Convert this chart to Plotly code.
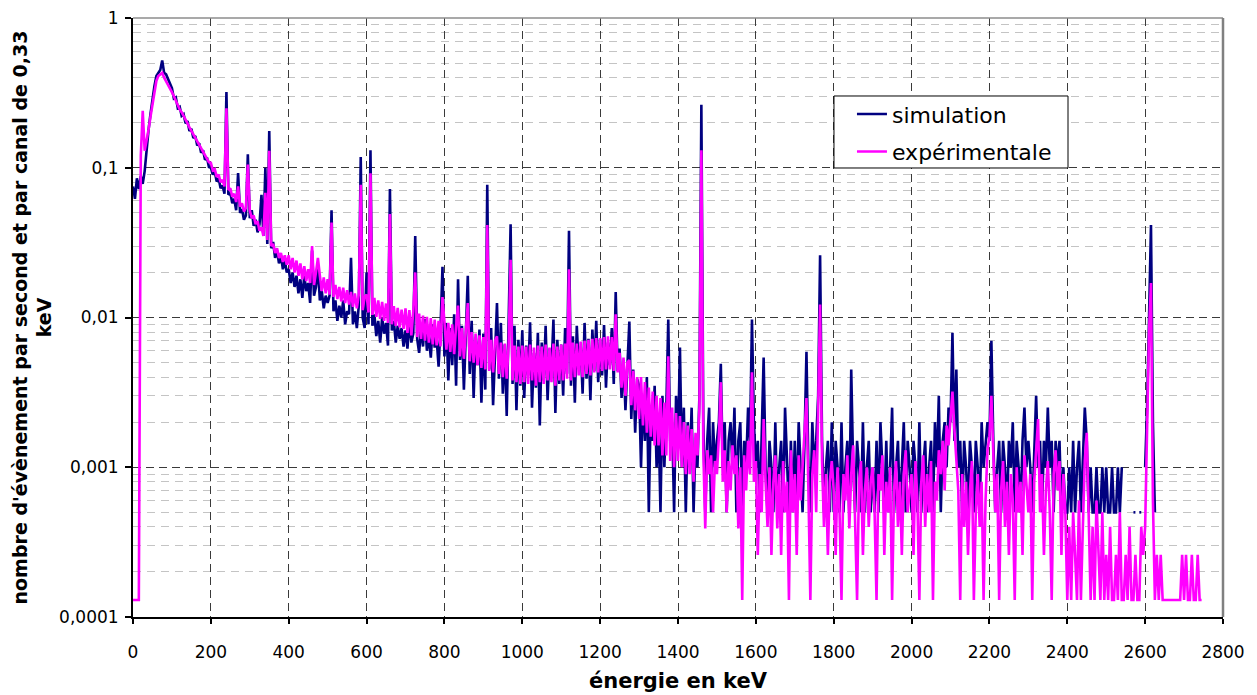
import plotly.graph_objects as go

# ---------------- data ----------------
# channel energies in keV (5 keV steps)
energie_keV = list(range(0, 2750, 5))

# simulation (navy), counts per second per channel
sim_0_495 = [
    0.075, 0.062, 0.085, 0.072, 0.088, 0.078, 0.095, 0.14, 0.18, 0.23,
    0.29, 0.35, 0.41, 0.43, 0.45, 0.52, 0.43, 0.42, 0.39, 0.36,
    0.34, 0.29, 0.295, 0.25, 0.255, 0.222, 0.228, 0.198, 0.205, 0.176,
    0.182, 0.158, 0.163, 0.141, 0.146, 0.126, 0.131, 0.113, 0.117, 0.101,
    0.1, 0.09, 0.094, 0.081, 0.085, 0.073, 0.076, 0.067, 0.32, 0.066,
    0.068, 0.058, 0.062, 0.052, 0.092, 0.05, 0.053, 0.045, 0.048, 0.123,
    0.046, 0.052, 0.041, 0.045, 0.037, 0.042, 0.066, 0.035, 0.1, 0.031,
    0.176, 0.029, 0.032, 0.025, 0.028, 0.023, 0.026, 0.021, 0.024, 0.02,
    0.021, 0.017, 0.02, 0.016, 0.019, 0.0145, 0.018, 0.0135, 0.019, 0.015,
    0.017, 0.0125, 0.028, 0.014, 0.016, 0.022, 0.013, 0.015, 0.0115, 0.014,
]
sim_500_995 = [
    0.0125, 0.014, 0.052, 0.011, 0.013, 0.0095, 0.012, 0.01, 0.013, 0.009,
    0.011, 0.0105, 0.025, 0.009, 0.011, 0.0085, 0.012, 0.118, 0.01, 0.0085,
    0.02, 0.009, 0.131, 0.0088, 0.0105, 0.0075, 0.0095, 0.0068, 0.01, 0.0078,
    0.0092, 0.0065, 0.072, 0.0082, 0.0095, 0.0068, 0.0088, 0.0072, 0.0085, 0.0064,
    0.0082, 0.0062, 0.0095, 0.0068, 0.0078, 0.035, 0.0072, 0.0058, 0.0085, 0.0064,
    0.0098, 0.006, 0.0075, 0.0054, 0.009, 0.0063, 0.0072, 0.0047, 0.0085, 0.0218,
    0.0055, 0.0092, 0.0038, 0.0085, 0.0048, 0.0105, 0.0035, 0.018, 0.0052, 0.0088,
    0.0033, 0.0078, 0.019, 0.0042, 0.0095, 0.0029, 0.0072, 0.0048, 0.0083, 0.0027,
    0.0078, 0.0033, 0.077, 0.0045, 0.0085, 0.0026, 0.0068, 0.0125, 0.0039, 0.0092,
    0.0031, 0.0066, 0.0022, 0.0079, 0.042, 0.0036, 0.0088, 0.0024, 0.0071, 0.0035,
]
sim_1000_1495 = [
    0.0082, 0.0029, 0.0065, 0.0041, 0.0093, 0.0025, 0.0058, 0.0034, 0.0079, 0.0019,
    0.0068, 0.0038, 0.0088, 0.0028, 0.0062, 0.0045, 0.0097, 0.0023, 0.0071, 0.0036,
    0.0066, 0.003, 0.0085, 0.0042, 0.038, 0.0035, 0.0075, 0.0027, 0.0088, 0.0046,
    0.0064, 0.0031, 0.0092, 0.0039, 0.0072, 0.0028, 0.0083, 0.0044, 0.0095, 0.0037,
    0.0072, 0.0041, 0.0089, 0.0034, 0.0068, 0.0048, 0.0085, 0.0036, 0.0148, 0.0044,
    0.0062, 0.0029, 0.0052, 0.0024, 0.0047, 0.0094, 0.0021, 0.0045, 0.0017, 0.0039,
    0.0035, 0.001, 0.003, 0.0015, 0.004, 0.0005, 0.0025, 0.0015, 0.0035, 0.001,
    0.002, 0.0005, 0.003, 0.001, 0.0025, 0.0097, 0.0015, 0.002, 0.0005, 0.003,
    0.0015, 0.0063, 0.001, 0.0025, 0.0005, 0.002, 0.001, 0.0025, 0.0005, 0.0015,
    0.001, 0.003, 0.263, 0.002, 0.0005, 0.0015, 0.0025, 0.0005, 0.002, 0.001,
]
sim_1500_1995 = [
    0.0015, 0.002, 0.0049, 0.001, 0.002, 0.0005, 0.0015, 0.002, 0.001, 0.0025,
    0.0005, 0.0015, 0.002, 0.0005, 0.0015, 0.001, 0.0025, 0.0015, 0.0097, 0.002,
    0.001, 0.0015, 0.0005, 0.002, 0.0054, 0.001, 0.0005, 0.0015, 0.001, 0.0005,
    0.002, 0.0005, 0.001, 0.0015, 0.0005, 0.0025, 0.001, 0.0005, 0.0015, 0.0005,
    0.0015, 0.0005, 0.002, 0.001, 0.0005, 0.0015, 0.0059, 0.001, 0.0005, 0.002,
    0.001, 0.0015, 0.003, 0.026, 0.0015, 0.0005, 0.001, 0.0015, 0.0005, 0.002,
    0.0005, 0.0015, 0.001, 0.0005, 0.002, 0.0005, 0.001, 0.0015, 0.0005, 0.0045,
    0.001, 0.0005, 0.0015, 0.001, 0.0005, 0.002, 0.0005, 0.001, 0.0015, 0.0005,
    0.001, 0.0005, 0.0015, 0.0005, 0.002, 0.001, 0.0005, 0.0015, 0.0005, 0.001,
    0.0025, 0.0005, 0.001, 0.0015, 0.0005, 0.001, 0.002, 0.0005, 0.0015, 0.001,
]
sim_2000_2495 = [
    0.0005, 0.0015, 0.001, 0.0005, 0.002, 0.0005, 0.001, 0.0015, 0.0005, 0.001,
    0.0015, 0.0005, 0.002, 0.001, 0.003, 0.0005, 0.0015, 0.002, 0.001, 0.0025,
    0.002, 0.0079, 0.0015, 0.0045, 0.001, 0.0015, 0.0005, 0.0015, 0.001, 0.0005,
    0.0015, 0.001, 0.0005, 0.0015, 0.001, 0.0005, 0.002, 0.001, 0.0015, 0.002,
    0.0015, 0.007, 0.0015, 0.0005, 0.001, 0.0015, 0.0005, 0.0015, 0.001, 0.0005,
    0.0015, 0.001, 0.002, 0.0005, 0.0015, 0.001, 0.0005, 0.0015, 0.0025, 0.001,
    0.0015, 0.001, 0.0005, 0.0015, 0.003, 0.001, 0.0015, 0.0005, 0.0015, 0.001,
    0.0025, 0.001, 0.0015, 0.0005, 0.0015, 0.001, 0.0015, 0.0005, 0.001, 0.0005,
    0.0005, 0.001, 0.0005, 0.0015, 0.0005, 0.001, 0.0015, 0.0005, 0.001, 0.0025,
    0.0015, 0.0005, 0.001, 0.0005, 0.0005, 0.001, 0.0005, 0.0005, 0.001, 0.0005,
]
sim_2500_2625 = [
    0.001, 0.0005, 0.0005, 0.001, 0.0005, 0.0005, 0.001, 0.0005, 0.001, None,
    None, None, None, None, 0.0005, 0.0005, None, 0.0005, 0.0005, None,
    0.001, 0.0025, 0.01, 0.0415, 0.002, 0.0005,
]

# experimental (magenta), counts per second per channel
exp_0_495 = [
    0.00013, 0.00013, 0.00013, 0.00013, 0.12, 0.24, 0.13, 0.15, 0.18, 0.22,
    0.27, 0.33, 0.38, 0.41, 0.42, 0.43, 0.4, 0.38, 0.36, 0.34,
    0.32, 0.3, 0.28, 0.26, 0.245, 0.235, 0.22, 0.21, 0.198, 0.186,
    0.176, 0.167, 0.158, 0.15, 0.142, 0.135, 0.128, 0.121, 0.115, 0.109,
    0.108, 0.096, 0.098, 0.087, 0.09, 0.08, 0.083, 0.075, 0.25, 0.071,
    0.073, 0.064, 0.067, 0.059, 0.075, 0.055, 0.058, 0.051, 0.054, 0.105,
    0.052, 0.046, 0.048, 0.042, 0.044, 0.038, 0.04, 0.035, 0.068, 0.033,
    0.13, 0.03, 0.031, 0.027, 0.029, 0.025, 0.027, 0.0235, 0.026, 0.0225,
    0.026, 0.021, 0.025, 0.02, 0.024, 0.019, 0.023, 0.018, 0.022, 0.0175,
    0.021, 0.017, 0.03, 0.0165, 0.02, 0.025, 0.019, 0.015, 0.0185, 0.0145,
]
exp_500_995 = [
    0.018, 0.0142, 0.043, 0.0137, 0.0165, 0.0133, 0.016, 0.0128, 0.0158, 0.0125,
    0.0152, 0.0122, 0.0148, 0.0118, 0.0145, 0.0115, 0.0142, 0.077, 0.0112, 0.0138,
    0.0142, 0.0108, 0.092, 0.0104, 0.0135, 0.0101, 0.013, 0.0098, 0.0127, 0.0095,
    0.0124, 0.0092, 0.049, 0.009, 0.0119, 0.0088, 0.0116, 0.0086, 0.0113, 0.0084,
    0.0115, 0.0079, 0.0112, 0.0076, 0.011, 0.02, 0.0074, 0.0106, 0.0072, 0.0103,
    0.007, 0.0101, 0.0068, 0.0099, 0.0066, 0.0097, 0.0065, 0.0095, 0.0064, 0.0137,
    0.0094, 0.0061, 0.0092, 0.0059, 0.009, 0.0057, 0.0088, 0.012, 0.0055, 0.0085,
    0.0053, 0.0083, 0.0125, 0.0051, 0.008, 0.005, 0.0078, 0.0048, 0.0076, 0.0046,
    0.0074, 0.0045, 0.0415, 0.0044, 0.0071, 0.0043, 0.007, 0.0075, 0.0042, 0.0068,
    0.004, 0.0067, 0.0039, 0.0066, 0.0243, 0.0038, 0.0065, 0.0037, 0.0064, 0.0036,
]
exp_1000_1495 = [
    0.0065, 0.0037, 0.0064, 0.0036, 0.0066, 0.0038, 0.0063, 0.0035, 0.0065, 0.0037,
    0.0064, 0.0036, 0.0066, 0.0038, 0.0063, 0.0037, 0.0067, 0.0035, 0.0064, 0.0038,
    0.0066, 0.0038, 0.0067, 0.0039, 0.021, 0.0038, 0.0068, 0.004, 0.0067, 0.0041,
    0.0069, 0.004, 0.007, 0.0042, 0.0071, 0.0041, 0.0072, 0.0043, 0.0073, 0.0043,
    0.0073, 0.0044, 0.0074, 0.0045, 0.0075, 0.0045, 0.0074, 0.0044, 0.0105, 0.0043,
    0.0058, 0.0034, 0.0054, 0.003, 0.005, 0.0052, 0.0026, 0.0044, 0.0024, 0.004,
    0.0021, 0.004, 0.0019, 0.0037, 0.0017, 0.0034, 0.0016, 0.0032, 0.0014, 0.003,
    0.0014, 0.0029, 0.0012, 0.0027, 0.0012, 0.0055, 0.0011, 0.0025, 0.001, 0.0023,
    0.0011, 0.0022, 0.001, 0.002, 0.0009, 0.0019, 0.0009, 0.0018, 0.0008, 0.0017,
    0.0012, 0.0025, 0.131, 0.0013, 0.00039, 0.0013, 0.0009, 0.0012, 0.0005, 0.0011,
]
exp_1500_1995 = [
    0.0009, 0.0016, 0.0037, 0.0008, 0.0013, 0.0005, 0.0011, 0.0007, 0.0014, 0.0009,
    0.0012, 0.00039, 0.001, 0.00013, 0.0012, 0.0007, 0.0015, 0.0009, 0.0043, 0.0008,
    0.0011, 0.00026, 0.0009, 0.0005, 0.0021, 0.0008, 0.0004, 0.001, 0.00026, 0.0008,
    0.0012, 0.00039, 0.0009, 0.00026, 0.0011, 0.0005, 0.0008, 0.00013, 0.0013, 0.0005,
    0.0009, 0.00026, 0.0012, 0.0006, 0.001, 0.0016, 0.0029, 0.0007, 0.00013, 0.0009,
    0.0013, 0.0005, 0.0021, 0.0122, 0.0011, 0.0004, 0.0009, 0.00026, 0.0008, 0.0011,
    0.0007, 0.00026, 0.001, 0.0005, 0.00013, 0.0009, 0.0006, 0.0012, 0.00039, 0.0009,
    0.0014, 0.0005, 0.00013, 0.0008, 0.0011, 0.00026, 0.0007, 0.001, 0.0004, 0.0008,
    0.001, 0.0005, 0.00013, 0.0009, 0.0007, 0.0012, 0.00026, 0.0008, 0.0005, 0.001,
    0.00013, 0.0007, 0.0011, 0.0004, 0.0008, 0.00026, 0.0009, 0.0013, 0.0005, 0.0007,
]
exp_2000_2495 = [
    0.0009, 0.00026, 0.0011, 0.0006, 0.00013, 0.0008, 0.0012, 0.0004, 0.0009, 0.0005,
    0.0011, 0.00013, 0.0008, 0.0006, 0.0013, 0.0009, 0.0015, 0.0007, 0.0019, 0.0014,
    0.0022, 0.0032, 0.0018, 0.0011, 0.0007, 0.00013, 0.0009, 0.0004, 0.0008, 0.00026,
    0.0007, 0.0011, 0.00013, 0.0005, 0.0009, 0.0004, 0.0008, 0.00013, 0.0006, 0.0013,
    0.0016, 0.003, 0.0012, 0.0005, 0.0009, 0.00013, 0.0007, 0.0011, 0.0004, 0.0008,
    0.00026, 0.0009, 0.0006, 0.00013, 0.001, 0.0005, 0.0008, 0.00026, 0.0012, 0.0007,
    0.0005, 0.0009, 0.00013, 0.0008, 0.0013, 0.0021, 0.0005, 0.0009, 0.00026, 0.0007,
    0.0011, 0.0005, 0.00013, 0.0009, 0.0013, 0.0007, 0.0011, 0.00026, 0.0009, 0.0005,
    0.00013, 0.0004, 0.00013, 0.0005, 0.00026, 0.00013, 0.0006, 0.00013, 0.0004, 0.0011,
    0.0017, 0.0005, 0.00013, 0.0004, 0.00013, 0.0006, 0.00026, 0.00013, 0.0005, 0.00013,
]
exp_2500_2745 = [
    0.00026, 0.00013, 0.0004, 0.00013, 0.00013, 0.00026, 0.00013, 0.0005, 0.00013, 0.00013,
    0.00026, 0.00013, 0.0004, 0.00013, 0.00013, 0.00026, 0.00013, 0.00013, 0.0004, 0.00026,
    0.0004, 0.002, 0.008, 0.017, 0.0006, 0.00013, 0.00026, 0.00013, 0.00026, 0.00013,
    0.00013, 0.00013, 0.00013, 0.00013, 0.00013, 0.00013, 0.00013, 0.00013, 0.00013, 0.00026,
    0.00013, 0.00026, 0.00013, 0.00013, 0.00026, 0.00013, 0.00013, 0.00026, 0.00013, 0.00013,
]

x_tick_values = [0, 200, 400, 600, 800, 1000, 1200, 1400, 1600, 1800, 2000, 2200, 2400, 2600, 2800]
y_tick_values = [0.0001, 0.001, 0.01, 0.1, 1]
y_tick_labels = ["0,0001", "0,001", "0,01", "0,1", "1"]

simulation = sim_0_495 + sim_500_995 + sim_1000_1495 + sim_1500_1995 + sim_2000_2495 + sim_2500_2625
experimentale = exp_0_495 + exp_500_995 + exp_1000_1495 + exp_1500_1995 + exp_2000_2495 + exp_2500_2745

# ---------------- figure ----------------
FONT = "DejaVu Sans"
fig = go.Figure()
fig.add_trace(go.Scatter(
    x=energie_keV[:len(simulation)], y=simulation, mode="lines", name="simulation",
    legendgroup="sim", line=dict(color="#000080", width=2.6),
))
fig.add_trace(go.Scatter(
    x=energie_keV[:len(experimentale)], y=experimentale, mode="lines", name="expérimentale",
    legendgroup="exp", line=dict(color="#FF00FF", width=2.6),
))

minor_vals = [m * 10.0 ** e for e in range(-4, 0) for m in range(2, 10)]

# the page body adds an 8px offset, so the margins are reduced by 8px on the left/top
fig.update_layout(
    width=1257, height=695,
    margin=dict(l=125, r=42, t=10, b=86, autoexpand=False),
    paper_bgcolor="white", plot_bgcolor="white",
    font=dict(family=FONT, size=17, color="black"),
    showlegend=True,
    legend=dict(
        x=0.6596, y=0.8745, xanchor="left", yanchor="top",
        bgcolor="rgba(0,0,0,0)", borderwidth=0,
        font=dict(family=FONT, size=22, color="black"),
        tracegroupgap=6,
    ),
)
fig.update_xaxes(
    range=[0, 2800], tickmode="array", tickvals=x_tick_values, automargin=False,
    showgrid=True, gridcolor="#3a3a3a", gridwidth=1, griddash="8px,5px",
    showline=True, linecolor="black", linewidth=2,
    ticks="outside", ticklen=5, tickcolor="black", tickwidth=1.5,
    zeroline=False, ticklabelstandoff=14, ticklabeloverflow="allow",
    title=dict(text="énergie en keV", font=dict(family=FONT, size=21, weight="bold"), standoff=12),
)
fig.update_yaxes(
    type="log", range=[-4, 0], tickmode="array", automargin=False,
    tickvals=y_tick_values, ticktext=y_tick_labels,
    showgrid=True, gridcolor="#3a3a3a", gridwidth=1, griddash="8px,5px",
    minor=dict(tickmode="array", tickvals=minor_vals, showgrid=True,
               gridcolor="#c4c4c4", gridwidth=1, griddash="8px,6px", ticks=""),
    showline=True, linecolor="black", linewidth=2,
    ticks="outside", ticklen=6, tickcolor="black", tickwidth=1.5,
    zeroline=False, ticklabelstandoff=3, ticklabeloverflow="allow",
    title=dict(text="nombre d'évènement par second et par canal de 0,33<br>keV",
               font=dict(family=FONT, size=19, weight="bold"), standoff=2),
)
# light grey frame on top and right, as in the reference
fig.add_shape(type="line", xref="paper", yref="paper", x0=0, x1=1, y0=1, y1=1,
              line=dict(color="#8c8c8c", width=1.5))
fig.add_shape(type="line", xref="paper", yref="paper", x0=1, x1=1, y0=0, y1=1,
              line=dict(color="#808080", width=2.5))
# legend frame
fig.add_shape(type="rect", xref="paper", yref="paper",
              x0=0.6431, x1=0.8578, y0=0.7496, y1=0.8698,
              line=dict(color="black", width=1), fillcolor="white", layer="above")

fig.write_html("out.html", config={"displayModeBar": False})
